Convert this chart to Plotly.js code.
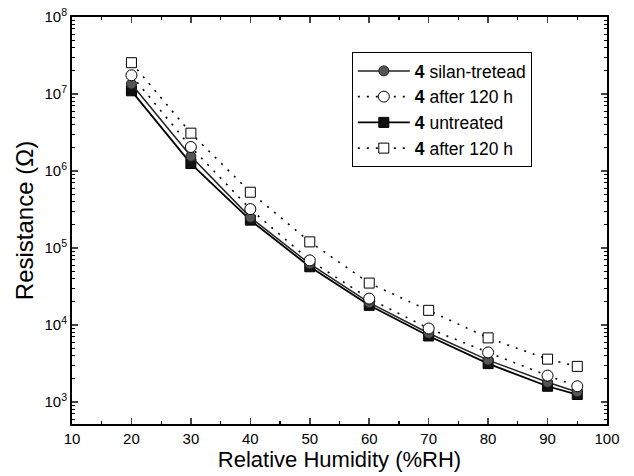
<!DOCTYPE html>
<html><head><meta charset="utf-8">
<script src="https://cdn.plot.ly/plotly-3.0.1.min.js"></script>
<style>html,body{margin:0;padding:0;background:#fff}</style>
</head><body>
<div id="chart" style="width:634px;height:476px"></div>
<script>
const humidity = [20, 30, 40, 50, 60, 70, 80, 90, 95];
const silanTreated = [1.35e7, 1.55e6, 2.5e5, 6.2e4, 1.95e4, 7.8e3, 3.5e3, 1.8e3, 1.35e3];
const silanAfter120 = [1.75e7, 2.05e6, 3.2e5, 6.9e4, 2.2e4, 9.0e3, 4.4e3, 2.2e3, 1.6e3];
const untreated = [1.1e7, 1.25e6, 2.3e5, 5.7e4, 1.8e4, 7.2e3, 3.15e3, 1.6e3, 1.25e3];
const untreatedAfter120 = [2.55e7, 3.1e6, 5.3e5, 1.2e5, 3.5e4, 1.55e4, 6.8e3, 3.6e3, 2.9e3];
const names = ['<b>4</b> silan-tretead', '<b>4</b> after 120 h', '<b>4</b> untreated', '<b>4</b> after 120 h'];
const yTickExps = [3, 4, 5, 6, 7, 8];
const yTickVals = yTickExps.map(e => Math.pow(10, e));
const yTickText = yTickExps.map(e => '10<sup>' + e + '</sup>');

// minor tick positions for the log axis (2..9 x 10^n)
const minorVals = [];
for (let e = 2; e <= 7; e++) for (let m = 2; m <= 9; m++) minorVals.push(m * Math.pow(10, e));

const dotted = '2px,7px';
const traces = [
  {x: humidity, y: untreated, name: names[2], legendrank: 3, mode: 'lines+markers',
   line: {color: '#000', width: 1.8, dash: 'solid'},
   marker: {symbol: 'square', size: 10, color: '#111', line: {color: '#000', width: 1}}},
  {x: humidity, y: silanTreated, name: names[0], legendrank: 1, mode: 'lines+markers',
   line: {color: '#222', width: 1.5, dash: 'solid'},
   marker: {symbol: 'circle', size: 10, color: '#555', line: {color: '#222', width: 1}}},
  {x: humidity, y: silanAfter120, name: names[1], legendrank: 2, mode: 'lines+markers',
   line: {color: '#000', width: 1.6, dash: dotted},
   marker: {symbol: 'circle', size: 11, color: '#fff', line: {color: '#000', width: 1}}},
  {x: humidity, y: untreatedAfter120, name: names[3], legendrank: 4, mode: 'lines+markers',
   line: {color: '#000', width: 1.6, dash: dotted},
   marker: {symbol: 'square', size: 10, color: '#fff', line: {color: '#000', width: 1}}}
];

const layout = {
  width: 634, height: 476,
  margin: {l: 72, r: 27, t: 17, b: 52},
  paper_bgcolor: '#fff', plot_bgcolor: '#fff',
  font: {family: 'Liberation Sans, Arial, sans-serif', color: '#000', size: 15},
  showlegend: true,
  legend: {x: 0.523, y: 0.914, xanchor: 'left', yanchor: 'top',
           bordercolor: '#000', borderwidth: 1, bgcolor: '#fff',
           font: {size: 17.5}, tracegroupgap: 0, itemwidth: 52},
  xaxis: {
    range: [10, 100], dtick: 10, tick0: 0, ticks: 'inside', ticklen: 6, tickwidth: 1.5,
    showline: true, linecolor: '#000', linewidth: 2, mirror: 'ticks', showgrid: false, zeroline: false,
    minor: {dtick: 5, ticks: 'inside', ticklen: 3, tickwidth: 1.2, tickcolor: '#000', showgrid: false},
    tickfont: {size: 15},
    title: {text: 'Relative Humidity (%RH)', font: {size: 22}, standoff: 2}
  },
  yaxis: {
    type: 'log', range: [2.714, 8],
    tickmode: 'array', tickvals: yTickVals, ticktext: yTickText,
    ticks: 'inside', ticklen: 6, tickwidth: 1.5,
    showline: true, linecolor: '#000', linewidth: 2, mirror: 'ticks', showgrid: false, zeroline: false,
    minor: {tickmode: 'array', tickvals: minorVals, ticks: 'inside', ticklen: 3, tickwidth: 1, tickcolor: '#000', showgrid: false},
    tickfont: {size: 15},
    title: {text: 'Resistance (Ω)', font: {size: 24}, standoff: 4}
  }
};

Plotly.newPlot('chart', traces, layout, {displayModeBar: false, staticPlot: true});
</script>
</body></html>
